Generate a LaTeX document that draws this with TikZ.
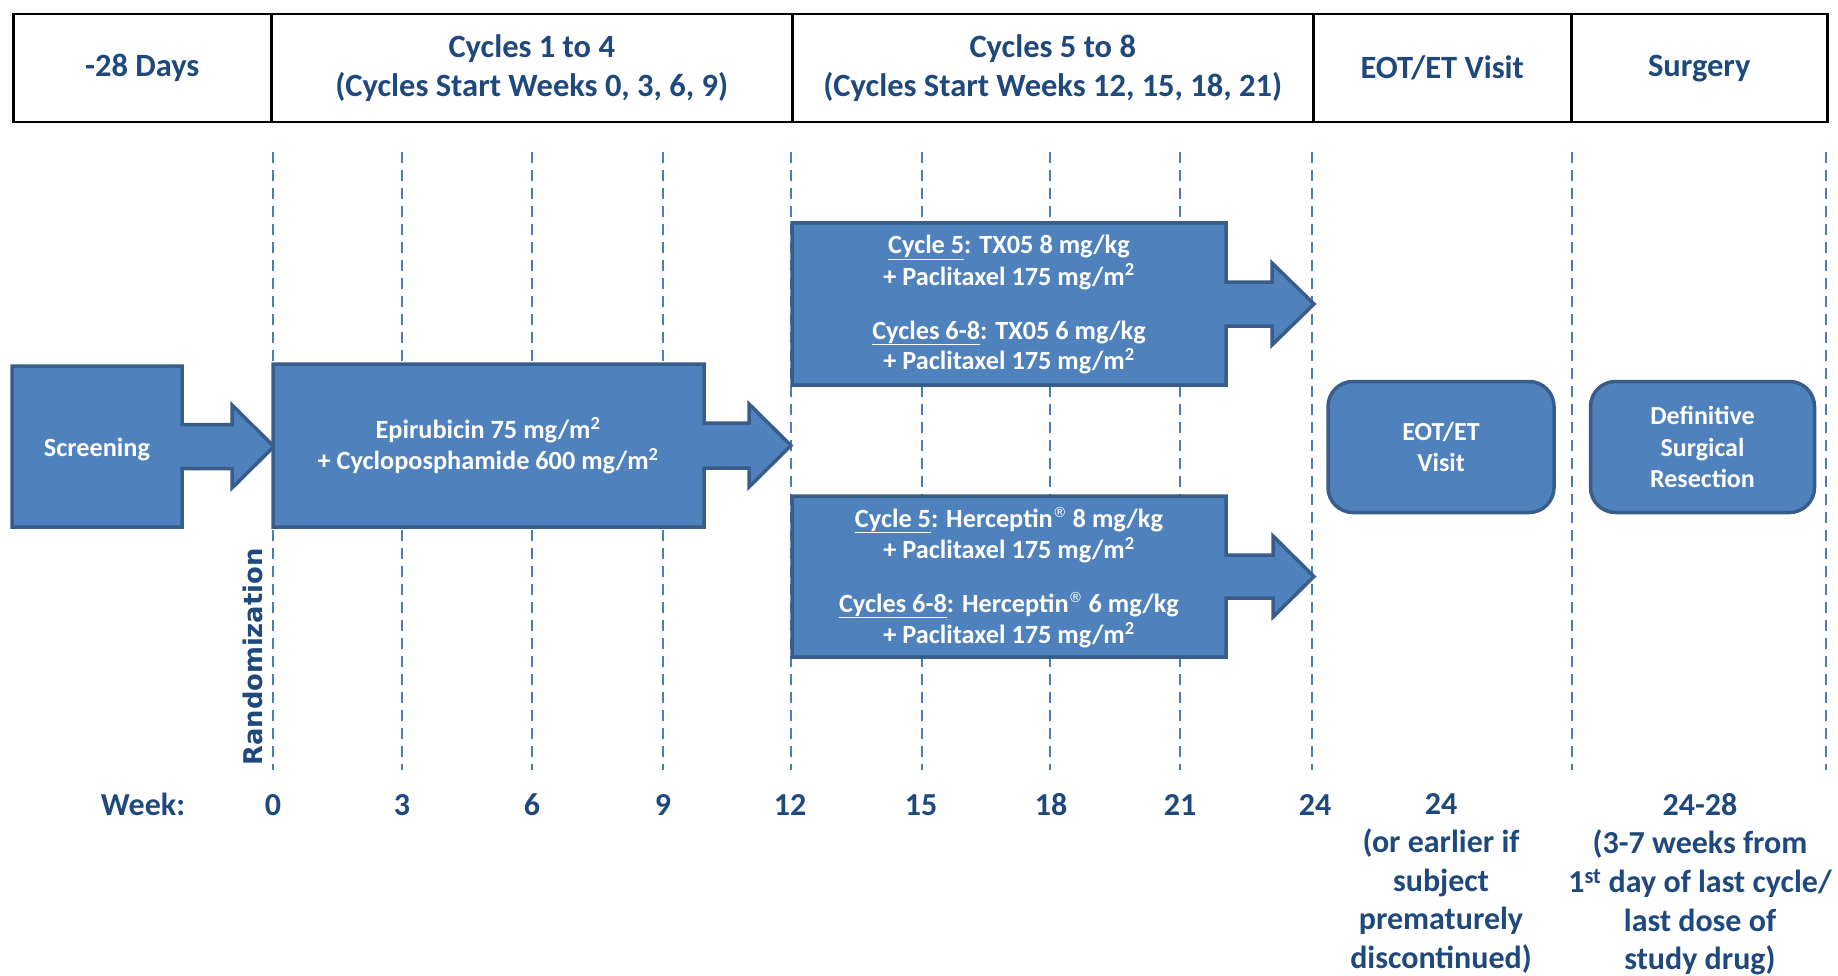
\documentclass[tikz,border=0pt]{standalone}
\usepackage{fontspec}
\setmainfont{Carlito}
\newfontfamily\randfont{DejaVu Sans}
\definecolor{boxfill}{HTML}{4F81BD}
\definecolor{boxline}{HTML}{385D8A}
\definecolor{headtext}{HTML}{1F497D}
\definecolor{dashcol}{HTML}{4A7EBB}
\newcommand{\regmark}{\raisebox{0.36em}{\randfont\mdseries\fontsize{14}{14}\selectfont ®}}
\begin{document}
\begin{tikzpicture}[x=1pt,y=-1pt,
  blockshape/.style={fill=boxfill, draw=boxline, line width=3.5pt, line join=miter},
  roundbox/.style={fill=boxfill, draw=boxline, line width=3.5pt, rounded corners=25pt, inner sep=0pt,
     text=white, font=\bfseries\fontsize{26}{31.5}\selectfont, align=center},
  hdrcell/.style={draw=black, line width=2.5pt, anchor=north west, inner sep=0pt, minimum height=108pt,
     text=headtext, font=\bfseries\fontsize{32.5}{39}\selectfont, align=center},
  boxtext/.style={text=white, font=\bfseries\fontsize{26.3}{31}\selectfont, align=center, inner sep=0pt},
  weektext/.style={text=headtext, font=\bfseries\fontsize{32}{38.6}\selectfont, align=center, inner sep=0pt},
  gridline/.style={draw=dashcol, line width=2.4pt, dash pattern=on 11pt off 7pt}]
\useasboundingbox (0,0) rectangle (1838,976);
% header
\node[hdrcell, minimum width=258pt] (h1) at (12,13) {-28 Days};
\node[hdrcell, minimum width=521pt] (h2) at (270,13) {Cycles 1 to 4\\(Cycles Start Weeks 0, 3, 6, 9)};
\node[hdrcell, minimum width=521pt] (h3) at (791,13) {Cycles 5 to 8\\(Cycles Start Weeks 12, 15, 18, 21)};
\node[hdrcell, minimum width=258pt] (h4) at (1312,13) {EOT/ET Visit};
\node[hdrcell, minimum width=256pt] (h5) at (1570,13) {Surgery};
% grid lines
\foreach \x in {273,402,532,663,791,922,1050,1180,1312,1572,1826}
  \draw[gridline] (\x,152) -- (\x,770);
% block arrows
\draw[blockshape] (12,366) -- (182,366) -- (182,424.5) -- (232,424.5) -- (232,405) -- (274,446.5)
  -- (232,488) -- (232,468.5) -- (182,468.5) -- (182,527) -- (12,527) -- cycle;
\node[boxtext] (scr) at (97,449) {Screening};
\draw[blockshape] (273,364) -- (704,364) -- (704,423) -- (749,423) -- (749,404) -- (791,445.5)
  -- (749,487) -- (749,468) -- (704,468) -- (704,527) -- (273,527) -- cycle;
\node[boxtext] (epi) at (488,446) {Epirubicin 75 mg/m\textsuperscript{2}\\+ Cycloposphamide 600 mg/m\textsuperscript{2}};
\draw[blockshape] (792,223) -- (1226,223) -- (1226,282) -- (1272,282) -- (1272,263) -- (1314,304)
  -- (1272,345) -- (1272,326) -- (1226,326) -- (1226,385) -- (792,385) -- cycle;
\node[boxtext] (tx) at (1009,305) {\underline{Cycle 5}: TX05 8 mg/kg\\+ Paclitaxel 175 mg/m\textsuperscript{2}\\[23pt]\underline{Cycles 6-8}: TX05 6 mg/kg\\+ Paclitaxel 175 mg/m\textsuperscript{2}};
\draw[blockshape] (792,496) -- (1226,496) -- (1226,555) -- (1273,555) -- (1273,536) -- (1314,576.5)
  -- (1273,617) -- (1273,598) -- (1226,598) -- (1226,657) -- (792,657) -- cycle;
\node[boxtext] (her) at (1009,577.5) {\underline{Cycle 5}: Herceptin\regmark{} 8 mg/kg\\+ Paclitaxel 175 mg/m\textsuperscript{2}\\[23pt]\underline{Cycles 6-8}: Herceptin\regmark{} 6 mg/kg\\+ Paclitaxel 175 mg/m\textsuperscript{2}};
% rounded boxes
\node[roundbox, minimum width=226pt, minimum height=131pt] (eot) at (1441,447) {EOT/ET\\Visit};
\node[roundbox, minimum width=224pt, minimum height=131pt] (surg) at (1702.5,447) {Definitive\\Surgical\\Resection};
% randomization
\node[rotate=90, text=headtext, inner sep=0pt, font=\randfont\bfseries\fontsize{25.8}{30}\selectfont] (rand) at (253,657) {Randomization};
% week labels
\node[weektext, anchor=base] (wk) at (143,815) {Week:};
\foreach \x/\w in {273/0,402/3,532/6,663/9,790/12,921/15,1051/18,1180/21,1315/24}
  \node[weektext, anchor=base] (w\w) at (\x,815) {\w};
\node[weektext, anchor=north] (weot) at (1441,793) {24\\(or earlier if\\subject\\prematurely\\discontinued)};
\node[weektext, anchor=north] (wsurg) at (1700,793) {24-28\\(3-7 weeks from\\1\textsuperscript{st} day of last cycle/\\last dose of\\study drug)};
\end{tikzpicture}
\end{document}
